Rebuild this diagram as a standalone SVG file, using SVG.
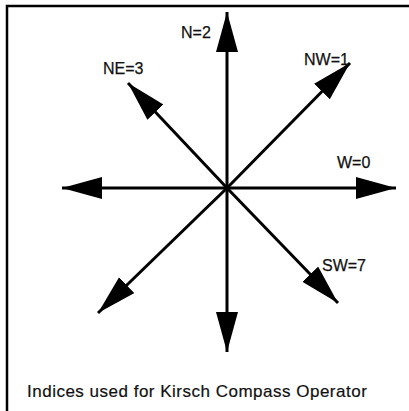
<svg xmlns="http://www.w3.org/2000/svg" width="409" height="411" viewBox="0 0 409 411">
<style>
.ax{stroke:#000;stroke-width:3;fill:none;marker-end:url(#ah)}
.lbl{font-family:"Liberation Sans",Arial,sans-serif;font-size:16px;fill:#111;stroke:#111;stroke-width:0.25px}
.cap{font-family:"Liberation Sans",Arial,sans-serif;font-size:17px;fill:#111;stroke:#111;stroke-width:0.2px;letter-spacing:0.5px}
.frame{stroke:#000;stroke-width:2.5;fill:none}
</style>
<defs>
<marker id="ah" markerUnits="userSpaceOnUse" markerWidth="42" markerHeight="24" refX="40" refY="11" orient="auto" viewBox="0 0 42 24">
<path d="M0,0 L40,11 L0,22 Z" fill="#000"/>
</marker>
</defs>
<rect width="409" height="411" fill="#fff"/>
<path class="frame" d="M7,411 L7,6 L409,6"/>
<g id="connectors">
<line class="ax" x1="227" y1="188" x2="227" y2="12"/>
<line class="ax" x1="227" y1="188" x2="227" y2="352"/>
<line class="ax" x1="227" y1="188" x2="396" y2="188"/>
<line class="ax" x1="227" y1="188" x2="62" y2="188"/>
<line class="ax" x1="227" y1="188" x2="350" y2="63"/>
<line class="ax" x1="227" y1="188" x2="128" y2="83"/>
<line class="ax" x1="227" y1="188" x2="338" y2="303"/>
<line class="ax" x1="227" y1="188" x2="98" y2="313"/>
</g>
<g id="n-label"><text class="lbl" x="181" y="38">N=2</text></g>
<g id="ne-label"><text class="lbl" x="103" y="74">NE=3</text></g>
<g id="nw-label"><text class="lbl" x="304" y="65">NW=1</text></g>
<g id="w-label"><text class="lbl" x="337" y="168">W=0</text></g>
<g id="sw-label"><text class="lbl" x="322" y="271">SW=7</text></g>
<g id="caption"><text class="cap" x="27" y="397">Indices used for Kirsch Compass Operator</text></g>
</svg>
